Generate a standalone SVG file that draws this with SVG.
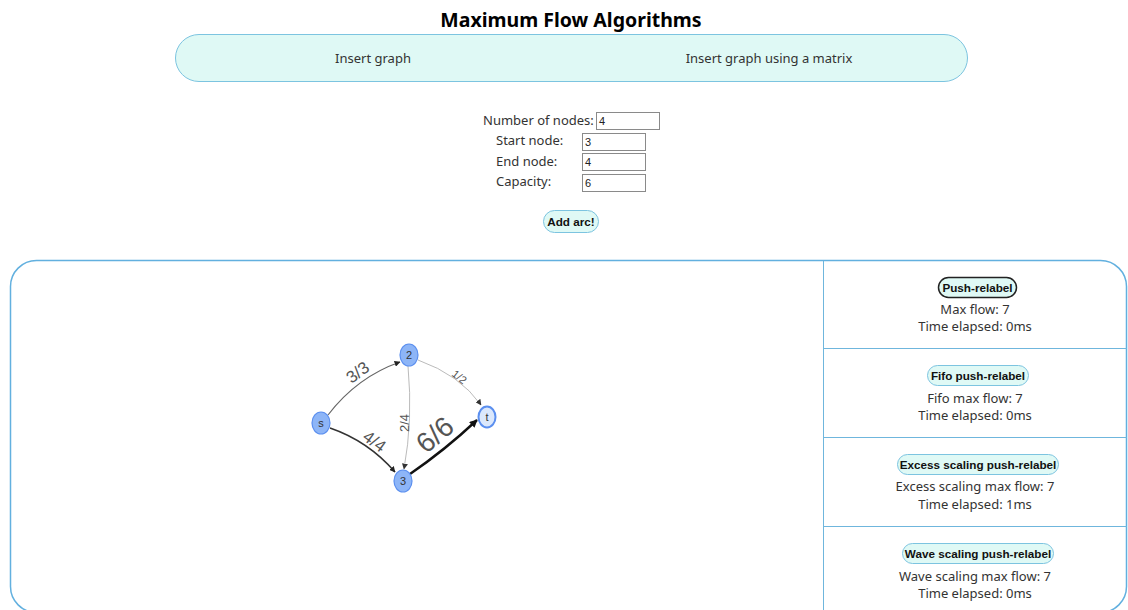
<svg xmlns="http://www.w3.org/2000/svg" width="1128" height="610" viewBox="0 0 1128 610">
<defs>
<style>
.t{font-family:"Noto Sans","Open Sans",sans-serif;fill:#333;font-size:13px}
.h{font-family:"Noto Sans","Open Sans",sans-serif;font-weight:bold;fill:#000;font-size:19.5px}
.b{font-family:"Liberation Sans",Arial,sans-serif;font-weight:bold;font-size:11.7px;fill:#111;text-anchor:middle}
.btn{fill:#dff9f5;stroke:#7cc4e0;stroke-width:1}
.inp{fill:#fff;stroke:#8a8a8a;stroke-width:1}
.iv{font-family:"Liberation Sans",Arial,sans-serif;font-size:11px;fill:#222}
.node{fill:#8db5f7;stroke:#5b8fef;stroke-width:1.2}
.nl{font-family:"Liberation Sans",Arial,sans-serif;font-size:11px;fill:#333;text-anchor:middle}
.el{font-family:"Liberation Sans",Arial,sans-serif;fill:#555;text-anchor:middle}
.ln{stroke:#6fb6dd;stroke-width:1;fill:none}
</style>
<marker id="a1" viewBox="0 0 10 10" refX="9" refY="5" markerWidth="6" markerHeight="6" orient="auto" markerUnits="userSpaceOnUse"><path d="M0,0 L10,5 L0,10 z" fill="#222"/></marker>
<marker id="a3" viewBox="0 0 10 10" refX="9" refY="5" markerWidth="6" markerHeight="6" orient="auto" markerUnits="userSpaceOnUse"><path d="M0,0 L10,5 L0,10 z" fill="#333"/></marker>
<marker id="a4" viewBox="0 0 10 10" refX="9" refY="5" markerWidth="8" markerHeight="8" orient="auto" markerUnits="userSpaceOnUse"><path d="M0,0 L10,5 L0,10 z" fill="#111"/></marker>
</defs>
<rect width="1128" height="610" fill="#fff"/>

<g id="title">
<text class="h" x="571" y="27" text-anchor="middle">Maximum Flow Algorithms</text>
</g>

<g id="menu">
<rect class="btn" x="175.5" y="34.5" width="792" height="47" rx="23.5"/>
<text class="t" x="373" y="63" text-anchor="middle">Insert graph</text>
<text class="t" x="769" y="63" text-anchor="middle">Insert graph using a matrix</text>
</g>

<g id="form">
<text class="t" x="483" y="125">Number of nodes:</text>
<rect class="inp" x="596.5" y="112.5" width="63" height="17"/>
<text class="iv" x="599" y="125">4</text>
<text class="t" x="496" y="145">Start node:</text>
<rect class="inp" x="582.5" y="133.5" width="63" height="17"/>
<text class="iv" x="585" y="146">3</text>
<text class="t" x="496" y="166">End node:</text>
<rect class="inp" x="582.5" y="153.5" width="63" height="17"/>
<text class="iv" x="585" y="166">4</text>
<text class="t" x="496" y="186">Capacity:</text>
<rect class="inp" x="582.5" y="174.5" width="63" height="17"/>
<text class="iv" x="585" y="187">6</text>
</g>

<g id="add-arc">
<rect class="btn" x="543.5" y="210.5" width="55" height="22" rx="11"/>
<text class="b" x="571" y="225.5">Add arc!</text>
</g>

<g id="panel">
<rect x="10.5" y="260.5" width="1116" height="352" rx="26" fill="none" stroke="#62b0df" stroke-width="1.5"/>
<line class="ln" x1="823.5" y1="261" x2="823.5" y2="612"/>
<line class="ln" x1="823" y1="348.5" x2="1127" y2="348.5"/>
<line class="ln" x1="823" y1="437.5" x2="1127" y2="437.5"/>
<line class="ln" x1="823" y1="526.5" x2="1127" y2="526.5"/>
</g>

<g id="connectors">
<path d="M328,415 Q357,377 400,362" fill="none" stroke="#666" stroke-width="1.2" marker-end="url(#a1)"/>
<path d="M330,428 Q368,441 395,472" fill="none" stroke="#333" stroke-width="1.6" marker-end="url(#a1)"/>
<path d="M408,366 Q413,420 404,469" fill="none" stroke="#bbb" stroke-width="1" marker-end="url(#a3)"/>
<path d="M418,360 Q460,375 481,405" fill="none" stroke="#bbb" stroke-width="1" marker-end="url(#a3)"/>
<path d="M410,474 Q445,450 477,420" fill="none" stroke="#111" stroke-width="2.4" marker-end="url(#a4)"/>
<text class="el" font-size="17" transform="translate(361,377) rotate(-36)">3/3</text>
<text class="el" font-size="17" transform="translate(371,446) rotate(36)">4/4</text>
<text class="el" font-size="13" transform="translate(409,423) rotate(-90)">2/4</text>
<text class="el" font-size="11" transform="translate(457,380) rotate(38)">1/2</text>
<text class="el" font-size="28" fill="#444" transform="translate(441,442) rotate(-40)">6/6</text>
</g>

<g id="node-s">
<ellipse class="node" cx="321" cy="423" rx="9" ry="11"/>
<text class="nl" x="321" y="427">s</text>
</g>
<g id="node-2">
<ellipse class="node" cx="409" cy="355" rx="9" ry="11"/>
<text class="nl" x="409" y="359">2</text>
</g>
<g id="node-3">
<ellipse class="node" cx="403" cy="481" rx="9" ry="11"/>
<text class="nl" x="403" y="485">3</text>
</g>
<g id="node-t">
<ellipse cx="487" cy="417" rx="8.5" ry="10.5" fill="#dbe8fc" stroke="#5b8fef" stroke-width="2"/>
<text class="nl" x="487" y="421">t</text>
</g>

<g id="algo-push-relabel">
<rect x="938.5" y="277.5" width="78" height="20" rx="10" fill="#dff9f5" stroke="#222" stroke-width="1.5"/>
<text class="b" x="977.5" y="292">Push-relabel</text>
<text class="t" x="975" y="314" text-anchor="middle">Max flow: 7</text>
<text class="t" x="975" y="331" text-anchor="middle">Time elapsed: 0ms</text>
</g>
<g id="algo-fifo">
<rect class="btn" x="927.5" y="365.5" width="101" height="20" rx="10"/>
<text class="b" x="978" y="380">Fifo push-relabel</text>
<text class="t" x="975" y="403" text-anchor="middle">Fifo max flow: 7</text>
<text class="t" x="975" y="420" text-anchor="middle">Time elapsed: 0ms</text>
</g>
<g id="algo-excess">
<rect class="btn" x="897.5" y="454.5" width="161" height="20" rx="10"/>
<text class="b" x="978" y="469">Excess scaling push-relabel</text>
<text class="t" x="975" y="491" text-anchor="middle">Excess scaling max flow: 7</text>
<text class="t" x="975" y="509" text-anchor="middle">Time elapsed: 1ms</text>
</g>
<g id="algo-wave">
<rect class="btn" x="902.5" y="543.5" width="151" height="20" rx="10"/>
<text class="b" x="978" y="558">Wave scaling push-relabel</text>
<text class="t" x="975" y="581" text-anchor="middle">Wave scaling max flow: 7</text>
<text class="t" x="975" y="598" text-anchor="middle">Time elapsed: 0ms</text>
</g>
</svg>
